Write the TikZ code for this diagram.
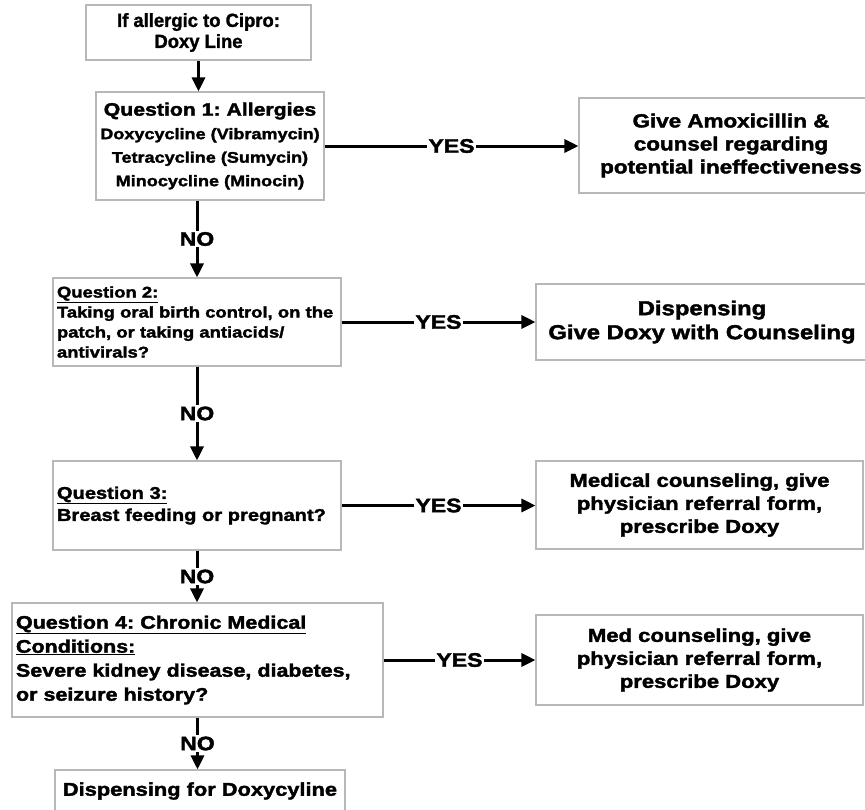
\documentclass[tikz,border=0pt]{standalone}
\usepackage{fontspec}
\setmainfont{Liberation Sans}
\newfontfamily\widefont{Liberation Sans}[FakeStretch=1.18,FakeBold=2]
\newfontfamily\plainfont{Liberation Sans}[FakeStretch=0.97,FakeBold=1.5]
\usetikzlibrary{arrows.meta,positioning}
\frenchspacing

\begin{document}
\begin{tikzpicture}[x=1pt,y=-1pt,
    box/.style={draw=black!28, line width=1.1pt, fill=white, inner sep=4pt, font=\widefont\bfseries},
    flow/.style={line width=3pt, -{Triangle[length=14pt,width=13pt]}},
    tag/.style={fill=white, inner sep=1.5pt, font=\widefont\bfseries\fontsize{19.5}{19.5}\selectfont}]

    % Marco fijo del dibujo
    \useasboundingbox (0,0) rectangle (865,809);
    \clip (0,0) rectangle (865,809);

    % --- Columna de preguntas ---
    \node[box, font=\plainfont\bfseries\fontsize{19}{21}\selectfont, align=center,
          minimum width=225pt, minimum height=55pt] (start) at (198.5,32.5)
          {If allergic to Cipro:\\Doxy Line};

    \node[box, font=\widefont\bfseries\fontsize{15.3}{23.5}\selectfont, align=center,
          minimum width=228pt, minimum height=108pt] (q1) at (210,146)
          {{\fontsize{18}{23.5}\selectfont Question 1: Allergies}\\
           Doxycycline (Vibramycin)\\Tetracycline (Sumycin)\\Minocycline (Minocin)};

    \node[box, font=\widefont\bfseries\fontsize{15.6}{20}\selectfont, align=left,
          text width=280pt, minimum height=88pt] (q2) at (197,322)
          {\underline{Question 2:}\\Taking oral birth control, on the\\
           patch, or taking antiacids/\\antivirals?};

    \node[box, font=\widefont\bfseries\fontsize{17}{22}\selectfont, align=left,
          text width=280pt, minimum height=89pt] (q3) at (197,505.5)
          {\underline{Question 3:}\\Breast feeding or pregnant?};

    \node[box, font=\widefont\bfseries\fontsize{18.2}{24}\selectfont, align=left,
          text width=363pt, minimum height=114pt] (q4) at (197.5,660)
          {\underline{Question 4: Chronic Medical}\\\underline{Conditions:}\\
           Severe kidney disease, diabetes,\\or seizure history?};

    \node[box, font=\widefont\bfseries\fontsize{18.5}{21}\selectfont, align=center,
          minimum width=290pt, minimum height=42pt] (stop) at (200,791)
          {Dispensing for Doxycyline};

    % --- Columna de respuestas ---
    \node[box, font=\widefont\bfseries\fontsize{19}{23}\selectfont, align=center,
          minimum width=304pt, minimum height=95pt] (amox) at (731,145.5)
          {Give Amoxicillin \&\\counsel regarding\\potential ineffectiveness};

    \node[box, font=\widefont\bfseries\fontsize{20.2}{24}\selectfont, align=center,
          minimum width=332pt, minimum height=76pt] (disp) at (702,322)
          {Dispensing\\Give Doxy with Counseling};

    \node[box, font=\widefont\bfseries\fontsize{18.7}{23}\selectfont, align=center,
          minimum width=327pt, minimum height=88pt] (med) at (699.5,505)
          {Medical counseling, give\\physician referral form,\\prescribe Doxy};

    \node[box, font=\widefont\bfseries\fontsize{18.7}{23}\selectfont, align=center,
          minimum width=327pt, minimum height=90pt] (medb) at (699.5,660)
          {Med counseling, give\\physician referral form,\\prescribe Doxy};

    % --- Flechas NO ---
    \draw[flow] (start.south) -- (start.south |- q1.north);
    \draw[flow] (q1.south -| q2.north) -- node[tag] {NO} (q2.north);
    \draw[flow] (q2.south) -- node[tag] {NO} (q3.north);
    \draw[flow] (q3.south) -- node[tag] {NO} (q3.south |- q4.north);
    \draw[flow] (q4.south) -- node[tag] {NO} (q4.south |- stop.north);

    % --- Flechas YES ---
    \draw[flow] (q1.east) -- node[tag] {YES} (q1.east -| amox.west);
    \draw[flow] (q2.east) -- node[tag] {YES} (q2.east -| disp.west);
    \draw[flow] (q3.east) -- node[tag] {YES} (q3.east -| med.west);
    \draw[flow] (q4.east) -- node[tag] {YES} (q4.east -| medb.west);

\end{tikzpicture}
\end{document}
